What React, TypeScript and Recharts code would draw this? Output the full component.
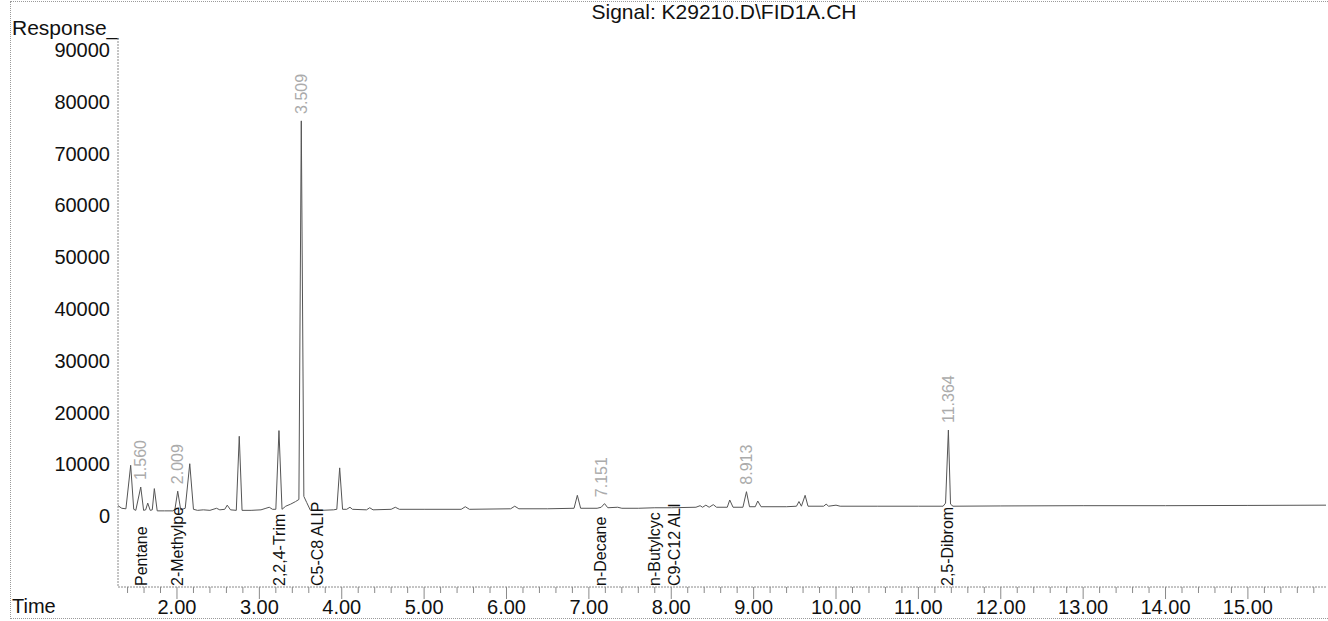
import React from 'react';
import { ComposedChart, Line, Scatter, XAxis, YAxis, ReferenceLine } from 'recharts';

const FONT = '"Liberation Sans", Arial, Helvetica, sans-serif';

// Chromatogram trace: retention time (min) and detector response
const TIME = [
  1.284, 1.33, 1.38, 1.438, 1.475, 1.5, 1.56, 1.595, 1.62, 1.645, 1.675, 1.7, 1.725, 1.76,
  1.85, 1.95, 1.975, 2.009, 2.045, 2.1, 2.155, 2.2, 2.25, 2.32, 2.4, 2.48, 2.52, 2.58, 2.61,
  2.65, 2.72, 2.756, 2.79, 2.9, 3.02, 3.08, 3.12, 3.16, 3.2, 3.238, 3.275, 3.32, 3.38, 3.44,
  3.48, 3.509, 3.54, 3.575, 3.62, 3.75, 3.9, 3.94, 3.975, 4.01, 4.06, 4.1, 4.13, 4.3, 4.34,
  4.38, 4.6, 4.65, 4.7, 5.0, 5.45, 5.5, 5.55, 6.05, 6.1, 6.15, 6.5, 6.82, 6.86, 6.9, 7.1,
  7.15, 7.19, 7.23, 7.35, 7.4, 7.6, 7.8, 8.0, 8.3, 8.35, 8.38, 8.42, 8.46, 8.51, 8.55, 8.68,
  8.71, 8.75, 8.87, 8.913, 8.95, 9.02, 9.05, 9.09, 9.4, 9.52, 9.55, 9.58, 9.625, 9.66, 9.85,
  9.88, 9.91, 10.0, 10.05, 10.5, 11.0, 11.3, 11.33, 11.364, 11.39, 11.42, 12.0, 13.0, 14.0,
  15.0, 15.948,
];
const RESPONSE = [
  2000, 1500, 1400, 9800, 1300, 1100, 5600, 1100, 1200, 2500, 1100, 1200, 5300, 1000,
  1000, 1000, 1300, 4800, 1200, 1500, 10100, 1300, 1100, 1200, 1100, 1500, 1200, 1300, 2100,
  1200, 1100, 15400, 1100, 1100, 1200, 1500, 1700, 1300, 1300, 16500, 1300, 1900, 2300, 2800,
  3200, 76300, 3800, 2600, 1100, 1100, 1200, 1300, 9300, 1300, 1300, 1700, 1300, 1200, 1600,
  1200, 1300, 1700, 1300, 1300, 1300, 1800, 1300, 1400, 1900, 1400, 1400, 1500, 4000, 1500, 1500,
  1700, 2400, 1600, 1700, 1500, 1500, 1600, 1600, 1700, 2000, 1700, 2100, 1700, 2200, 1700, 1700,
  3100, 1700, 1700, 4700, 1800, 1800, 2900, 1800, 1800, 1900, 2800, 1900, 4000, 1900, 1900,
  2300, 1900, 2100, 1900, 1900, 1900, 1900, 2500, 16600, 2300, 1900, 1950, 2000, 2000,
  2050, 2100,
];

// Integrated peak labels (retention times printed above peaks)
const PEAK_TIMES = [1.56, 2.009, 3.509, 7.151, 8.913, 11.364];
const PEAK_APEX = [5600, 4800, 76300, 2300, 4700, 16600];
const PEAK_TEXT = ['1.560', '2.009', '3.509', '7.151', '8.913', '11.364'];

// Compound identification labels
const COMPOUND_TIMES = [1.565, 2.01, 3.24, 3.7, 7.14, 7.8, 8.04, 11.355];
const COMPOUND_NAMES = [
  'Pentane', '2-Methylpe', '2,2,4-Trim', 'C5-C8 ALIP', 'n-Decane', 'n-Butylcyc', 'C9-C12 ALI', '2,5-Dibrom',
];

const Y_TICKS = [0, 10000, 20000, 30000, 40000, 50000, 60000, 70000, 80000, 90000];
const MAJOR_TICKS = [2, 3, 4, 5, 6, 7, 8, 9, 10, 11, 12, 13, 14, 15];
const X_TICK_LABELS = ['2.00', '3.00', '4.00', '5.00', '6.00', '7.00', '8.00', '9.00', '10.00', '11.00', '12.00', '13.00', '14.00', '15.00'];

const X_DOMAIN: [number, number] = [1.284, 15.948];
const Y_DOMAIN: [number, number] = [-13700, 92300];

const minorTicks: number[] = [];
for (let i = 0; i <= 72; i++) minorTicks.push(Math.round((1.4 + 0.2 * i) * 10) / 10);
const ALL_TICKS = minorTicks;

const trace = TIME.map((t, i) => ({ t, r: RESPONSE[i] }));
const peaks = PEAK_TIMES.map((t, i) => ({ t, r: PEAK_APEX[i], label: PEAK_TEXT[i] }));

const XTick = (props: any) => {
  const { x, y, payload } = props;
  const v: number = payload.value;
  const idx = MAJOR_TICKS.findIndex((m) => Math.abs(m - v) < 1e-6);
  const major = idx >= 0;
  return (
    <g>
      <line x1={x} x2={x} y1={y} y2={y + (major ? 12 : 6)} stroke="#8a8a8a" strokeWidth={1} />
      {major && (
        <text x={x} y={y + 13} dy="0.71em" textAnchor="middle" fontSize={20} fill="#111" fontFamily={FONT}>
          {X_TICK_LABELS[idx]}
        </text>
      )}
    </g>
  );
};

const PeakLabel = (props: any) => {
  const { cx, cy, payload } = props;
  if (cx == null || cy == null) return null;
  const bx = cx;
  const by = cy - 7;
  return (
    <text
      x={bx}
      y={by}
      transform={`rotate(-90 ${bx} ${by})`}
      textAnchor="start"
      dominantBaseline="central"
      fontSize={16}
      fill="#ababab"
      fontFamily={FONT}
    >
      {payload.label}
    </text>
  );
};

const makeCompoundLabel = (name: string) => (props: any) => {
  const vb = props.viewBox || {};
  const x = vb.x;
  const y = (vb.y || 0) + (vb.height || 0) - 1;
  if (x == null) return null;
  return (
    <text
      x={x}
      y={y}
      transform={`rotate(-90 ${x} ${y})`}
      textAnchor="start"
      dominantBaseline="central"
      fontSize={16}
      fill="#111"
      fontFamily={FONT}
    >
      {name}
    </text>
  );
};

export default function App() {
  return (
    <div style={{ position: 'absolute', left: 0, top: 0, width: 1328, height: 621, background: '#fff', fontFamily: FONT }}>
      <div
        style={{
          position: 'absolute',
          left: 10,
          top: 1,
          width: 1318,
          height: 618,
          borderTop: '1px dotted #9a9a9a',
          borderLeft: '1px dotted #9a9a9a',
          borderBottom: '1px dotted #9a9a9a',
          boxSizing: 'border-box',
        }}
      />
      <div style={{ position: 'absolute', left: 0, width: 1448, top: 0, textAlign: 'center', fontSize: 21, color: '#111', lineHeight: '24px', whiteSpace: 'nowrap' }}>
        Signal: K29210.D\FID1A.CH
      </div>
      <div style={{ position: 'absolute', left: 12, top: 16, fontSize: 21, color: '#111', lineHeight: '24px' }}>Response_</div>
      <div style={{ position: 'absolute', left: 12, top: 595, fontSize: 20, color: '#111', lineHeight: '23px' }}>Time</div>
      <div style={{ position: 'absolute', left: 0, top: 0 }}>
        <ComposedChart width={1328} height={621} data={trace} margin={{ top: 38, right: 2, bottom: 0, left: 10 }}>
          <XAxis
            dataKey="t"
            type="number"
            domain={X_DOMAIN}
            allowDataOverflow
            ticks={ALL_TICKS}
            interval={0}
            height={34}
            tickSize={0}
            tickMargin={0}
            tickLine={false}
            axisLine={{ stroke: '#8a8a8a', strokeDasharray: '2 1' }}
            tick={<XTick />}
          />
          <YAxis
            type="number"
            domain={Y_DOMAIN}
            allowDataOverflow
            ticks={Y_TICKS}
            interval={0}
            width={108}
            tickSize={0}
            tickMargin={8}
            tickLine={false}
            axisLine={{ stroke: '#8a8a8a', strokeDasharray: '2 1' }}
            tick={{ fontSize: 20, fill: '#111', fontFamily: FONT }}
          />
          <Line
            type="linear"
            dataKey="r"
            stroke="#555555"
            strokeWidth={1}
            dot={false}
            activeDot={false}
            isAnimationActive={false}
          />
          <Scatter data={peaks} dataKey="r" isAnimationActive={false} shape={<PeakLabel />} />
          {COMPOUND_TIMES.map((t, i) => (
            <ReferenceLine
              key={COMPOUND_NAMES[i]}
              x={t}
              stroke="none"
              ifOverflow="visible"
              label={{ content: makeCompoundLabel(COMPOUND_NAMES[i]) } as any}
            />
          ))}
        </ComposedChart>
      </div>
    </div>
  );
}
